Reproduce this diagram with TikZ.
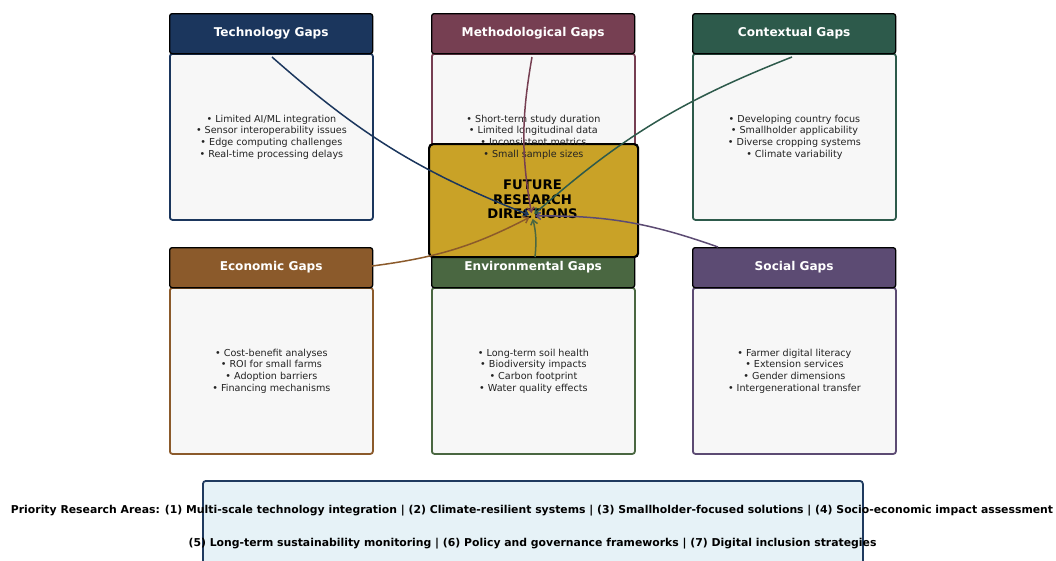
\documentclass[tikz,border=0pt]{standalone}
\usepackage{fontspec}
\setmainfont{DejaVu Sans}
\usetikzlibrary{arrows.meta}
\definecolor{techC}{HTML}{1B365D}
\definecolor{methC}{HTML}{763F52}
\definecolor{contC}{HTML}{2D5A4B}
\definecolor{econC}{HTML}{8B5A2B}
\definecolor{envC}{HTML}{4A6741}
\definecolor{socC}{HTML}{5C4B73}
\definecolor{goldC}{HTML}{C9A227}
\definecolor{bodyC}{HTML}{F7F7F7}
\definecolor{txtC}{HTML}{222222}
\definecolor{botFill}{HTML}{E6F2F7}
\definecolor{botDraw}{HTML}{1F3A5F}
\begin{document}
\begin{tikzpicture}[x=1pt,y=-1pt,
  hdr/.style={draw=black, fill=#1, line width=1.3pt, rounded corners=2.5pt,
    minimum width=203pt, minimum height=40pt, anchor=north west, inner sep=0pt},
  hdrtext/.style={text=white, font=\bfseries\fontsize{12.1}{13}\selectfont},
  bodybox/.style={draw=#1, fill=bodyC, line width=1.8pt, rounded corners=2.5pt,
    minimum width=203pt, minimum height=166pt, anchor=north west, inner sep=0pt},
  btext/.style={align=center, text=txtC, font=\fontsize{9.6}{11.7}\selectfont},
  conn/.style={draw=#1, line width=1.5pt, shorten >=3pt, -{Straight Barb[length=4.5pt,width=7pt]}},
  bottext/.style={font=\bfseries\fontsize{10.85}{12}\selectfont, text=black}]
\useasboundingbox (0,0) rectangle (1056,560);
% bottom box
\node[draw=botDraw, fill=botFill, line width=1.8pt, rounded corners=3pt,
  minimum width=660pt, minimum height=95pt, anchor=north west, inner sep=0pt] (bot) at (202,480) {};
% bodies
\node[bodybox=techC] (techB) at (169,53) {};
\node[bodybox=methC] (methB) at (431,53) {};
\node[bodybox=contC] (contB) at (692,53) {};
\node[bodybox=econC] (econB) at (169,287) {};
\node[bodybox=envC] (envB) at (431,287) {};
\node[bodybox=socC] (socB) at (692,287) {};
% headers
\node[hdr=techC] (techH) at (169,13) {};
\node[hdr=methC] (methH) at (431,13) {};
\node[hdr=contC] (contH) at (692,13) {};
\node[hdr=econC] (econH) at (169,247) {};
\node[hdr=envC] (envH) at (431,247) {};
\node[hdr=socC] (socH) at (692,247) {};
% center box
\node[draw=black, fill=goldC, line width=2.2pt, rounded corners=4pt,
  minimum width=209pt, minimum height=113pt, anchor=north west, inner sep=0pt] (ctr) at (428,143) {};
\node[align=center, font=\bfseries\fontsize{13.2}{14.7}\selectfont, text=black] (ctrT) at (532.5,199.5) {FUTURE\\RESEARCH\\DIRECTIONS};
% header texts
\node[hdrtext] (techHT) at (techH.center) {Technology Gaps};
\node[hdrtext] (methHT) at (methH.center) {Methodological Gaps};
\node[hdrtext] (contHT) at (contH.center) {Contextual Gaps};
\node[hdrtext] (econHT) at (econH.center) {Economic Gaps};
\node[hdrtext] (envHT) at (envH.center) {Environmental Gaps};
\node[hdrtext] (socHT) at (socH.center) {Social Gaps};
% body texts
\node[btext] (techT) at (techB.center) {• Limited AI/ML integration\\• Sensor interoperability issues\\• Edge computing challenges\\• Real-time processing delays};
\node[btext] (methT) at (methB.center) {• Short-term study duration\\• Limited longitudinal data\\• Inconsistent metrics\\• Small sample sizes};
\node[btext] (contT) at (contB.center) {• Developing country focus\\• Smallholder applicability\\• Diverse cropping systems\\• Climate variability};
\node[btext] (econT) at (econB.center) {• Cost-benefit analyses\\• ROI for small farms\\• Adoption barriers\\• Financing mechanisms};
\node[btext] (envT) at (envB.center) {• Long-term soil health\\• Biodiversity impacts\\• Carbon footprint\\• Water quality effects};
\node[btext] (socT) at (socB.center) {• Farmer digital literacy\\• Extension services\\• Gender dimensions\\• Intergenerational transfer};
% connectors
\coordinate (tgt) at (532,216);
\coordinate (tS) at (272,57);
\coordinate (mS) at (532,57);
\coordinate (cS) at (792,57);
\coordinate (eS) at (372,266);
\coordinate (vS) at (535,257);
\coordinate (sS) at (718,247);
\draw[conn=techC] (tS) to[bend right=10] (tgt);
\draw[conn=methC] (mS) to[bend right=10] (tgt);
\draw[conn=contC] (cS) to[bend right=10] (tgt);
\draw[conn=econC] (eS) to[bend right=10] (tgt);
\draw[conn=envC] (vS) to[bend right=10] (tgt);
\draw[conn=socC] (sS) to[bend right=10] (tgt);
% bottom texts
\node[bottext] (bot1) at (532,511) {Priority Research Areas: (1) Multi-scale technology integration | (2) Climate-resilient systems | (3) Smallholder-focused solutions | (4) Socio-economic impact assessment};
\node[bottext] (bot2) at (532.5,544) {(5) Long-term sustainability monitoring | (6) Policy and governance frameworks | (7) Digital inclusion strategies};
\end{tikzpicture}
\end{document}
